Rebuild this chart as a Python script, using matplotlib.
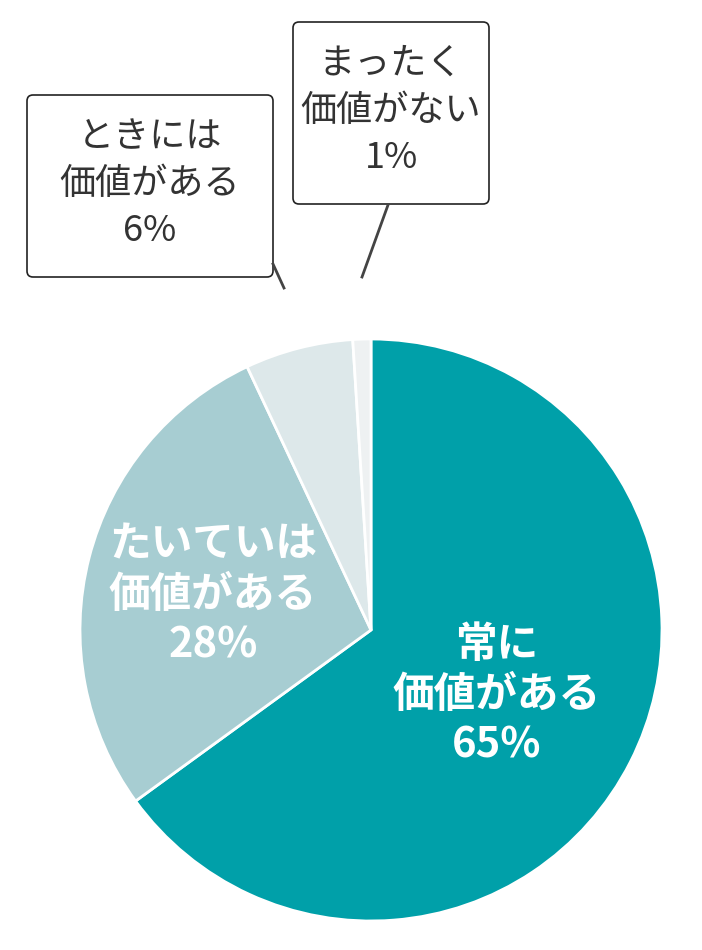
import matplotlib
matplotlib.use("Agg")
import matplotlib.pyplot as plt
from matplotlib.patches import FancyBboxPatch

plt.rcParams['font.family'] = ['Noto Sans CJK JP', 'DejaVu Sans']

# data
labels = ['常に\n価値がある', 'たいていは\n価値がある', 'ときには\n価値がある', 'まったく\n価値がない']
values = [65, 28, 6, 1]
colors = ['#00a0a9', '#a7cdd2', '#dde8ea', '#eef1f2']

W, H = 702, 950
fig = plt.figure(figsize=(W / 100, H / 100), dpi=100)
ax = fig.add_axes([0, 0, 1, 1])

cx, cy, r = 371, H - 630, 291
wedges, _ = ax.pie(values, colors=colors, startangle=90, counterclock=False,
                   center=(cx, cy), radius=r, frame=True,
                   wedgeprops=dict(edgecolor='white', linewidth=2))
ax.set_xlim(0, W)
ax.set_ylim(0, H)
ax.set_aspect('equal')
ax.axis('off')

# labels inside the big slices
ax.text(497, H - 695, labels[0] + '\n%d%%' % values[0], color='white', fontsize=30,
        fontweight='bold', ha='center', va='center', linespacing=1.25)
ax.text(213, H - 595, labels[1] + '\n%d%%' % values[1], color='white', fontsize=30,
        fontweight='bold', ha='center', va='center', linespacing=1.25)

# callout boxes for small slices
def callout(x0, y0, x1, y1, text, line):
    box = FancyBboxPatch((x0, H - y1), x1 - x0, y1 - y0,
                         boxstyle='round,pad=0,rounding_size=6',
                         facecolor='white', edgecolor='#222222', linewidth=1.2)
    ax.add_patch(box)
    ax.text((x0 + x1) / 2, H - (y0 + y1) / 2 + 2, text, fontsize=26,
            ha='center', va='center', color='#333333', linespacing=1.4)
    ax.plot([line[0], line[2]], [H - line[1], H - line[3]], color='#444444', lw=2)

callout(27, 95, 273, 277, labels[2] + '\n%d%%' % values[2], (273, 264, 284, 288))
callout(293, 22, 489, 204, labels[3] + '\n%d%%' % values[3], (388, 205, 362, 277))

fig.savefig('out.png', dpi=100, facecolor='white')
